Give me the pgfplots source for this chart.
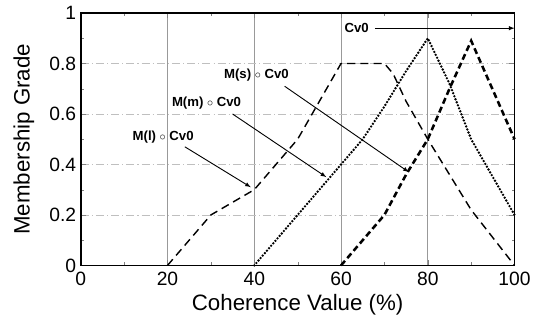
\documentclass[border={10pt 3pt 0pt 3pt}]{standalone}
\usepackage{fontspec}
\setmainfont{Liberation Sans}
\usepackage{pgfplots}
\pgfplotsset{compat=1.18}
\begin{document}
\begin{tikzpicture}
\begin{axis}[
  scale only axis, width=428pt, height=249pt,
  xmin=0, xmax=100, ymin=0, ymax=1,
  xtick={0,20,40,60,80,100}, ytick={0,0.2,0.4,0.6,0.8,1},
  yticklabels={0,0.2,0.4,0.6,0.8,1},
  minor x tick num=1, minor y tick num=1,
  tick align=inside, major tick length=5pt, minor tick length=3pt,
  /pgf/number format/assume math mode=true,
  ticklabel style={font=\fontsize{19}{21}\selectfont},
  xticklabel style={yshift=-3pt},
  yticklabel style={xshift=-1pt},
  label style={font=\fontsize{22}{24}\selectfont},
  xlabel={Coherence Value (\%)}, ylabel={Membership Grade},
  xlabel style={yshift=-2pt}, ylabel style={yshift=8pt},
  axis line style={line width=1.8pt},
  xmajorgrids, ymajorgrids,
  x grid style={gray!80, line width=0.9pt},
  y grid style={gray!50, line width=0.6pt, dash pattern=on 8pt off 3pt on 1pt off 3pt},
  clip=false,
]
\addplot[black, line width=1.4pt, dash pattern=on 8pt off 5pt] coordinates {
(20,0) (30,0.2) (40,0.3) (50,0.5) (60,0.8) (70,0.8) (72,0.76) (75,0.65) (80,0.5) (90,0.22) (100,0)};
\addplot[black, line width=2.6pt, dash pattern=on 0pt off 3.2pt, line cap=round] coordinates {
(40,0) (50,0.2) (60,0.4) (65,0.5) (70,0.63) (75,0.77) (80,0.9) (85,0.72) (90,0.5) (100,0.2)};
\addplot[black, line width=2.5pt, dash pattern=on 6pt off 3.5pt] coordinates {
(60,0) (70,0.2) (75,0.36) (80,0.5) (85,0.7) (90,0.89) (100,0.5)};
\node[font=\fontsize{13}{15}\selectfont\bfseries] at (axis cs:19,0.51) {M(l) $\circ$ Cv0};
\draw[-latex, line width=0.9pt] (axis cs:24,0.47) -- (axis cs:39.2,0.31);
\node[font=\fontsize{13}{15}\selectfont\bfseries] at (axis cs:29,0.645) {M(m) $\circ$ Cv0};
\draw[-latex, line width=0.9pt] (axis cs:35,0.6) -- (axis cs:56.6,0.35);
\node[font=\fontsize{13}{15}\selectfont\bfseries] at (axis cs:40.5,0.755) {M(s) $\circ$ Cv0};
\draw[-latex, line width=0.9pt] (axis cs:47,0.71) -- (axis cs:75.6,0.37);
\node[font=\fontsize{13}{15}\selectfont\bfseries] at (axis cs:63.6,0.94) {Cv0};
\draw[-latex, line width=0.9pt] (axis cs:67.8,0.94) -- (axis cs:100,0.94);
\end{axis}
\end{tikzpicture}
\end{document}
